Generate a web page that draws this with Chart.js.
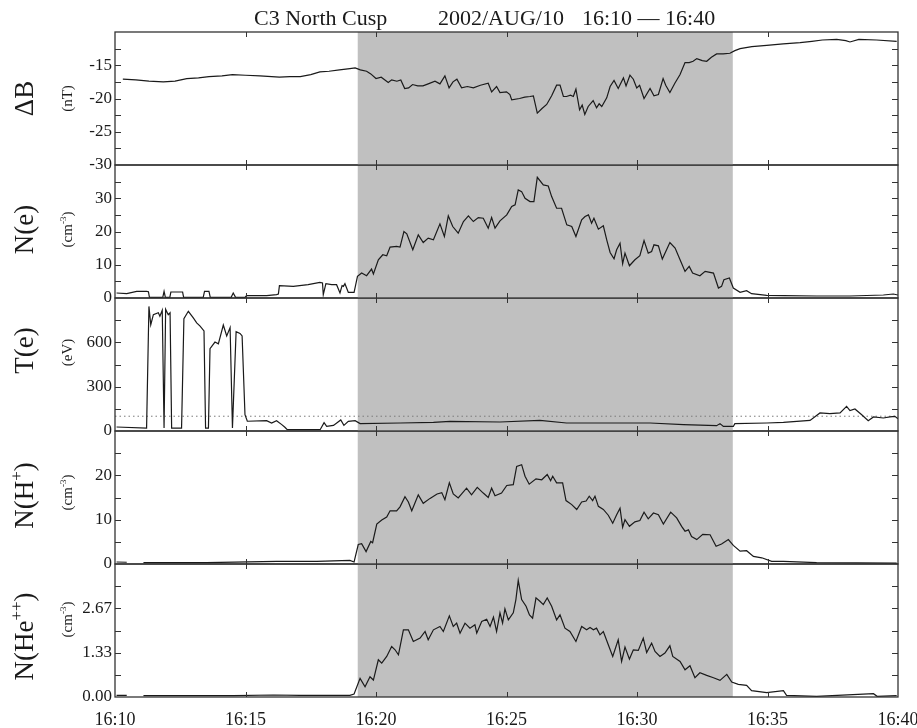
<!DOCTYPE html>
<html>
<head>
<meta charset="utf-8">
<script src="https://cdn.jsdelivr.net/npm/chart.js@4.4.1/dist/chart.umd.min.js"></script>
<style>
  html, body { margin: 0; padding: 0; background: #fff; }
  #wrap { position: relative; width: 917px; height: 728px; overflow: hidden; }
  #wrap canvas { position: absolute; left: 0; }
  .title { position: absolute; top: 7px; font: 22px "Liberation Serif", "Times New Roman", serif; line-height: 22px; color: #1a1a1a; white-space: pre; }
</style>
</head>
<body>
<div id="wrap">
  <div class="title" style="left:254px">C3 North Cusp</div>
  <div class="title" style="left:438px">2002/AUG/10</div>
  <div class="title" style="left:582px">16:10 — 16:40</div>
</div>
<script>
// time axis: minutes after 16:00
const X_MIN = 10;
const X_MAX = 40;
const X_STEP = 5;
const SHADE_START = 19.3;
const SHADE_END = 33.67;
const TE_REF_LEVEL = 100;

// Delta B (nT)
const B_TIME = [10.3, 10.8, 11.3, 11.85, 12.3, 12.75, 13.2, 13.6, 14.1, 14.5, 15.0, 15.55, 16.0, 16.3, 16.7, 17.1, 17.5, 17.85, 18.2, 18.6,
  19.0, 19.2, 19.4, 19.64, 19.8, 20.0, 20.2, 20.47, 20.6, 20.8, 20.95, 21.1, 21.25, 21.4, 21.6, 21.8, 22.0, 22.26, 22.45, 22.64,
  22.8, 22.95, 23.1, 23.28, 23.5, 23.73, 24.0, 24.3, 24.43, 24.62, 24.75, 25.0, 25.13, 25.2, 25.5, 25.7, 25.9, 26.03, 26.18, 26.36,
  26.54, 26.73, 26.92, 27.05, 27.18, 27.3, 27.45, 27.56, 27.66, 27.8, 27.9, 28.0, 28.13, 28.32, 28.45, 28.55, 28.65, 28.84, 28.97, 29.12,
  29.28, 29.48, 29.58, 29.73, 29.86, 29.99, 30.1, 30.27, 30.5, 30.65, 30.82, 31.0, 31.1, 31.26, 31.45, 31.65, 31.84, 32.0, 32.15, 32.29,
  32.5, 32.67, 32.85, 33.05, 33.3, 33.56, 33.75, 33.95, 34.4, 34.97, 35.6, 36.25, 36.7, 37.1, 37.65, 38.0, 38.16, 38.5, 39.18, 39.95];
const B_VALUE = [-17.1, -17.2, -17.4, -17.5, -17.4, -17.0, -16.9, -16.7, -16.6, -16.4, -16.5, -16.6, -16.7, -16.8, -16.7, -16.7, -16.4, -16.0, -15.9, -15.7,
  -15.5, -15.4, -15.7, -15.9, -16.3, -17.0, -16.8, -17.6, -17.2, -17.4, -17.2, -18.5, -18.4, -17.9, -18.1, -18.1, -17.8, -17.4, -17.8, -16.6,
  -18.4, -17.5, -17.1, -18.4, -18.2, -18.4, -18.0, -17.7, -19.0, -18.2, -19.1, -19.0, -19.4, -20.2, -20.0, -19.8, -19.7, -19.6, -22.2, -21.5,
  -20.9, -19.6, -18.0, -18.0, -19.7, -19.7, -19.5, -19.7, -18.6, -21.7, -21.0, -22.4, -21.2, -20.3, -21.4, -20.8, -21.2, -19.9, -18.2, -17.3,
  -18.5, -16.9, -18.1, -16.5, -17.1, -18.4, -18.0, -20.0, -18.5, -19.6, -19.4, -17.0, -18.0, -19.1, -17.7, -16.4, -14.6, -14.6, -14.4, -14.0,
  -14.3, -14.4, -13.8, -13.3, -13.3, -13.2, -12.8, -12.5, -12.2, -12.0, -11.8, -11.6, -11.4, -11.2, -11.1, -11.3, -11.5, -11.1, -11.2, -11.4];

// electron density (cm^-3)
const NE_TIME = [10.06, 10.45, 10.83, 11.21, 11.28, 11.32, 11.83, 11.88, 11.93, 12.1, 12.14, 12.59, 12.63, 13.38, 13.43, 13.6, 13.65, 14.45, 14.53, 14.62,
  14.98, 15.04, 15.81, 16.19, 16.26, 16.3, 16.83, 17.4, 17.85, 17.95, 17.98, 18.08, 18.3, 18.49, 18.62, 18.7, 18.75, 18.81, 18.94, 19.16,
  19.29, 19.45, 19.64, 19.83, 19.9, 20.09, 20.26, 20.41, 20.54, 20.79, 20.92, 21.07, 21.18, 21.41, 21.62, 21.81, 22.0, 22.2, 22.45, 22.62,
  22.77, 22.94, 23.15, 23.35, 23.54, 23.73, 23.92, 24.11, 24.3, 24.43, 24.56, 24.75, 25.01, 25.2, 25.33, 25.45, 25.58, 25.71, 25.9, 26.05,
  26.18, 26.41, 26.6, 26.73, 26.92, 27.11, 27.31, 27.5, 27.66, 27.88, 28.01, 28.14, 28.26, 28.35, 28.52, 28.71, 28.84, 28.97, 29.12, 29.22,
  29.35, 29.45, 29.54, 29.71, 29.92, 30.11, 30.27, 30.43, 30.56, 30.65, 30.82, 30.97, 31.26, 31.46, 31.65, 31.84, 32.0, 32.13, 32.41, 32.61,
  32.93, 33.12, 33.24, 33.33, 33.54, 33.69, 33.95, 34.2, 34.39, 34.97, 35.61, 36.88, 38.16, 39.44, 39.82, 40.0];
const NE_VALUE = [1.5, 1.3, 2.0, 2.0, 1.9, 0.2, 0.2, 2.0, 0.2, 0.2, 1.8, 1.8, 0.2, 0.2, 2.0, 2.0, 0.2, 0.2, 1.5, 0.2,
  0.2, 0.7, 0.7, 1.0, 1.2, 3.7, 3.5, 4.0, 4.7, 4.5, 1.0, 4.3, 4.0, 4.0, 1.5, 3.7, 3.5, 4.3, 1.7, 1.7,
  6.5, 7.5, 6.7, 8.7, 7.2, 11.5, 13.0, 12.7, 15.3, 15.5, 15.3, 20.0, 19.3, 14.5, 19.0, 16.7, 18.0, 17.5, 22.3, 18.5,
  24.7, 21.5, 19.5, 23.0, 24.7, 23.0, 24.2, 24.0, 21.0, 24.2, 21.0, 23.2, 25.0, 27.5, 28.0, 32.5, 32.0, 30.0, 29.0, 29.0,
  36.3, 34.0, 33.7, 30.5, 27.0, 27.0, 22.0, 21.5, 18.5, 23.5, 24.5, 25.0, 22.5, 24.0, 20.7, 21.7, 17.5, 13.7, 11.8, 14.5,
  16.5, 10.3, 13.5, 9.7, 11.5, 12.7, 17.3, 13.5, 14.0, 16.0, 15.7, 11.7, 16.7, 15.0, 11.5, 8.0, 9.5, 7.5, 6.7, 8.0,
  7.5, 3.0, 3.5, 5.5, 6.0, 3.0, 1.7, 2.2, 1.3, 0.8, 0.7, 0.6, 0.6, 0.9, 1.2, 0.9];

// electron temperature (eV)
const TE_TIME = [10.06, 11.21, 11.3, 11.37, 11.47, 11.66, 11.72, 11.81, 11.88, 11.94, 12.04, 12.11, 12.17, 12.55, 12.64, 12.81, 13.0, 13.13, 13.26, 13.41,
  13.47, 13.58, 13.64, 13.83, 13.96, 14.15, 14.28, 14.41, 14.5, 14.64, 14.79, 14.87, 14.98, 15.07, 15.81, 16.0, 16.19, 16.39, 16.51, 16.6,
  17.86, 18.01, 18.11, 18.37, 18.65, 18.77, 18.94, 19.2, 19.39, 20.92, 22.2, 22.84, 24.75, 26.28, 27.3, 28.97, 30.5, 31.78, 33.05, 33.18,
  33.31, 33.69, 33.75, 34.97, 35.61, 36.63, 37.01, 37.39, 37.78, 38.03, 38.16, 38.35, 38.61, 38.86, 39.06, 39.44, 39.69, 39.88, 40.0];
const TE_VALUE = [27, 20, 843, 719, 787, 800, 777, 817, 20, 823, 787, 800, 20, 20, 760, 810, 765, 732, 710, 677,
  20, 20, 557, 602, 590, 717, 643, 700, 20, 672, 660, 643, 110, 66, 70, 54, 70, 43, 25, 9,
  9, 56, 31, 38, 75, 38, 65, 70, 50, 54, 58, 65, 61, 72, 54, 54, 54, 43, 36, 50,
  31, 31, 50, 54, 58, 72, 122, 117, 122, 167, 138, 149, 110, 70, 95, 88, 95, 99, 83];

// proton density (cm^-3)
const NH_TIME = [10.06, 10.45, 10.5, 11.09, 13.5, 16.19, 17.73, 19.0, 19.16, 19.32, 19.45, 19.62, 19.8, 19.87, 20.03, 20.22, 20.41, 20.54, 20.79, 20.92,
  21.11, 21.24, 21.37, 21.62, 21.81, 22.07, 22.34, 22.52, 22.64, 22.81, 22.96, 23.15, 23.47, 23.66, 23.88, 24.11, 24.3, 24.43, 24.56, 24.81,
  25.01, 25.26, 25.39, 25.58, 25.71, 25.87, 26.13, 26.35, 26.56, 26.69, 26.77, 26.92, 27.15, 27.28, 27.5, 27.69, 27.88, 28.05, 28.17, 28.3,
  28.39, 28.52, 28.71, 28.9, 29.07, 29.22, 29.35, 29.45, 29.54, 29.71, 29.92, 30.11, 30.27, 30.43, 30.63, 30.82, 31.01, 31.29, 31.52, 31.71,
  31.84, 31.97, 32.09, 32.29, 32.52, 32.8, 33.03, 33.24, 33.5, 33.69, 33.95, 34.2, 34.46, 34.78, 35.16, 35.61, 36.88, 39.95];
const NH_VALUE = [0.45, 0.4, null, 0.3, 0.3, 0.6, 0.6, 0.8, 0.45, 4.4, 4.6, 2.8, 5.1, 4.8, 9.0, 9.9, 10.6, 12.0, 12.0, 12.9,
  15.2, 14.0, 12.0, 15.6, 13.7, 14.8, 15.8, 16.1, 14.5, 18.3, 15.8, 14.9, 17.1, 15.6, 17.3, 16.0, 15.0, 17.1, 15.4, 16.0,
  17.7, 17.9, 22.0, 22.4, 19.8, 18.0, 19.2, 19.0, 20.2, 18.8, 19.8, 18.3, 18.3, 14.3, 13.4, 12.3, 14.0, 14.2, 15.3, 14.3,
  15.3, 13.0, 12.3, 11.0, 9.2, 11.1, 12.6, 8.3, 10.0, 8.5, 9.5, 9.8, 11.7, 10.2, 11.5, 11.1, 9.0, 11.7, 10.4, 8.5,
  7.4, 7.7, 6.2, 5.5, 6.7, 6.6, 4.0, 4.5, 5.5, 4.2, 2.9, 3.0, 1.7, 1.4, 0.6, 0.6, 0.3, 0.2];

// alpha particle density (cm^-3)
const NHE_TIME = [10.06, 10.45, 10.5, 11.09, 14.53, 16.07, 17.09, 19.0, 19.16, 19.39, 19.58, 19.77, 19.9, 20.09, 20.22, 20.41, 20.6, 20.73, 20.86, 21.05,
  21.24, 21.43, 21.69, 21.88, 22.0, 22.2, 22.45, 22.58, 22.81, 22.96, 23.09, 23.22, 23.41, 23.6, 23.79, 23.86, 24.05, 24.24, 24.37, 24.5,
  24.62, 24.75, 24.85, 24.94, 25.07, 25.26, 25.36, 25.45, 25.58, 25.75, 25.88, 26.0, 26.13, 26.28, 26.41, 26.56, 26.73, 26.92, 27.05, 27.24,
  27.43, 27.66, 27.88, 28.07, 28.2, 28.33, 28.45, 28.58, 28.71, 28.9, 29.07, 29.28, 29.41, 29.54, 29.71, 29.86, 30.05, 30.24, 30.37, 30.56,
  30.69, 30.88, 31.07, 31.26, 31.37, 31.65, 31.84, 32.03, 32.22, 32.41, 32.67, 32.93, 33.18, 33.44, 33.63, 33.88, 34.2, 34.39, 34.97, 35.61,
  35.73, 36.88, 39.06, 39.2, 39.95];
const NHE_VALUE = [0.05, 0.05, null, 0.04, 0.04, 0.06, 0.05, 0.05, 0.09, 0.56, 0.31, 0.61, 0.51, 1.12, 1.02, 1.22, 1.52, 1.42, 1.27, 2.02,
  2.02, 1.67, 1.77, 1.97, 1.72, 2.02, 2.12, 1.97, 2.44, 2.12, 2.22, 1.92, 2.22, 2.07, 2.17, 1.92, 2.27, 2.34, 2.12, 2.40,
  1.97, 2.53, 2.22, 2.65, 2.32, 2.53, 2.93, 3.51, 2.93, 2.73, 2.47, 2.37, 2.98, 2.88, 2.78, 2.98, 2.73, 2.32, 2.47, 2.07,
  1.97, 1.67, 2.12, 2.02, 2.09, 2.02, 2.07, 1.87, 1.97, 1.57, 1.22, 1.72, 1.07, 1.50, 1.14, 1.42, 1.40, 1.77, 1.34, 1.62,
  1.37, 1.22, 1.32, 1.54, 1.22, 1.07, 0.82, 0.94, 0.58, 0.73, 0.65, 0.58, 0.50, 0.68, 0.45, 0.38, 0.35, 0.19, 0.13, 0.19,
  0.05, 0.02, 0.10, 0.02, 0.04];

// layout (pixels)
const PLOT_LEFT = 115;
const PLOT_RIGHT = 898;
const PANEL_TOP = [32, 165, 298, 431, 564];
const PANEL_H = 133;
const PAD = 12;
const X_AXIS_H = 31;
const TICK_LEN = 6;
const INK = "#1a1a1a";
const SERIF = '"Liberation Serif", "Times New Roman", serif';

const PANELS = [
  { time: B_TIME, value: B_VALUE, min: -30, max: -10, count: 9, digits: 0,
    label: [["ΔB"]], unit: [["(nT)"]], labelDy: 0, unitDy: 0 },
  { time: NE_TIME, value: NE_VALUE, min: 0, max: 40, count: 9, digits: 0,
    label: [["N(e)"]], unit: [["(cm"], ["-3", 1], [")"]], labelDy: -2, unitDy: -2 },
  { time: TE_TIME, value: TE_VALUE, min: 0, max: 900, count: 7, digits: 0,
    label: [["T(e)"]], unit: [["(eV)"]], labelDy: -14, unitDy: -12, refLevel: TE_REF_LEVEL },
  { time: NH_TIME, value: NH_VALUE, min: 0, max: 30, count: 7, digits: 0,
    label: [["N(H"], ["+", 1], [")"]], unit: [["(cm"], ["-3", 1], [")"]], labelDy: -2, unitDy: -5 },
  { time: NHE_TIME, value: NHE_VALUE, min: 0, max: 4, count: 7, digits: 2,
    label: [["N(He"], ["++", 1], [")"]], unit: [["(cm"], ["-3", 1], [")"]], labelDy: 6, unitDy: -11 },
];

// Draw rotated text made of normal and superscript parts, centred on (x, y).
const drawRotated = (ctx, parts, x, y, size) => {
  const supSize = Math.round(size * 0.62);
  const widths = parts.map(([txt, sup]) => {
    ctx.font = `${sup ? supSize : size}px ${SERIF}`;
    return ctx.measureText(txt).width;
  });
  const total = widths.reduce((a, b) => a + b, 0);
  ctx.save();
  ctx.translate(x, y);
  ctx.rotate(-Math.PI / 2);
  ctx.fillStyle = INK;
  ctx.textBaseline = "alphabetic";
  ctx.textAlign = "left";
  let pos = -total / 2;
  parts.forEach(([txt, sup], i) => {
    ctx.font = `${sup ? supSize : size}px ${SERIF}`;
    ctx.fillText(txt, pos, sup ? -size * 0.42 : 0);
    pos += widths[i];
  });
  ctx.restore();
};

const panelDecor = {
  id: "panelDecor",
  beforeDatasetsDraw(chart, args, opts) {
    const { ctx, chartArea: a, scales: { x } } = chart;
    const x0 = x.getPixelForValue(SHADE_START);
    const x1 = x.getPixelForValue(SHADE_END);
    ctx.save();
    ctx.fillStyle = "#c0c0c0";
    ctx.fillRect(x0, a.top, x1 - x0, a.bottom - a.top);
    ctx.restore();
  },
  afterDatasetsDraw(chart, args, opts) {
    const { ctx, chartArea: a, scales: { x, y } } = chart;
    ctx.save();
    ctx.strokeStyle = "#333";
    ctx.lineWidth = 1.3;
    ctx.strokeRect(a.left, a.top, a.right - a.left, a.bottom - a.top);
    ctx.lineWidth = 1;
    ctx.beginPath();
    y.ticks.forEach((tk, i) => {
      if (i === 0 || i === y.ticks.length - 1) return;
      const py = Math.round(y.getPixelForValue(tk.value)) + 0.5;
      ctx.moveTo(a.left, py);
      ctx.lineTo(a.left + TICK_LEN, py);
      ctx.moveTo(a.right, py);
      ctx.lineTo(a.right - TICK_LEN, py);
    });
    for (let v = X_MIN + X_STEP; v < X_MAX; v += X_STEP) {
      const px = Math.round(x.getPixelForValue(v)) + 0.5;
      ctx.moveTo(px, a.top);
      ctx.lineTo(px, a.top + TICK_LEN - 1);
      ctx.moveTo(px, a.bottom);
      ctx.lineTo(px, a.bottom - TICK_LEN + 1);
    }
    ctx.stroke();
    ctx.restore();
    const cy = (a.top + a.bottom) / 2;
    drawRotated(ctx, opts.label, 33, cy + opts.labelDy, 27);
    drawRotated(ctx, opts.unit, 72, cy + opts.unitDy, 15);
  },
};

const wrap = document.getElementById("wrap");

PANELS.forEach((p, idx) => {
  const last = idx === PANELS.length - 1;
  const top = PANEL_TOP[idx] - PAD;
  const height = last ? 728 - top : PANEL_H + 2 * PAD;
  const canvas = document.createElement("canvas");
  canvas.width = 917;
  canvas.height = height;
  canvas.style.top = `${top}px`;
  wrap.insertBefore(canvas, wrap.firstChild);

  const datasets = [{
    data: p.time.map((t, i) => ({ x: t, y: p.value[i] })),
    borderColor: "#1a1a1a",
    borderWidth: 1.2,
    pointRadius: 0,
    tension: 0,
    spanGaps: false,
  }];
  if (p.refLevel !== undefined) {
    datasets.push({
      data: [{ x: X_MIN, y: p.refLevel }, { x: X_MAX, y: p.refLevel }],
      borderColor: "#7a7a7a",
      borderWidth: 1,
      borderDash: [1.5, 3],
      pointRadius: 0,
    });
  }

  new Chart(canvas.getContext("2d"), {
    type: "line",
    data: { datasets },
    options: {
      responsive: false,
      animation: false,
      devicePixelRatio: 1,
      events: [],
      layout: { padding: { left: 0, right: 917 - PLOT_RIGHT, top: PAD, bottom: last ? 0 : PAD } },
      plugins: {
        legend: { display: false },
        tooltip: { enabled: false },
        panelDecor: { label: p.label, unit: p.unit, labelDy: p.labelDy, unitDy: p.unitDy },
      },
      scales: {
        x: {
          type: "linear",
          min: X_MIN,
          max: X_MAX,
          display: last,
          grid: { display: false, drawTicks: false },
          border: { display: false },
          ticks: {
            stepSize: X_STEP,
            autoSkip: false,
            maxRotation: 0,
            padding: 12,
            color: INK,
            font: { family: SERIF, size: 18 },
            callback: (v) => `16:${v}`,
          },
          afterFit: (scale) => {
            scale.height = last ? X_AXIS_H : 0;
            scale.paddingLeft = 0;
            scale.paddingRight = 0;
          },
        },
        y: {
          type: "linear",
          min: p.min,
          max: p.max,
          grid: { display: false, drawTicks: false },
          border: { display: false },
          ticks: {
            count: p.count,
            autoSkip: false,
            padding: 3,
            color: INK,
            font: { family: SERIF, size: 17 },
            callback: (v, i, ticks) => (i % 2 === 0 && i < ticks.length - 1 ? Number(v).toFixed(p.digits) : ""),
          },
          afterFit: (scale) => {
            scale.width = PLOT_LEFT;
            scale.paddingTop = 0;
            scale.paddingBottom = 0;
          },
        },
      },
    },
    plugins: [panelDecor],
  });
});
</script>
</body>
</html>
